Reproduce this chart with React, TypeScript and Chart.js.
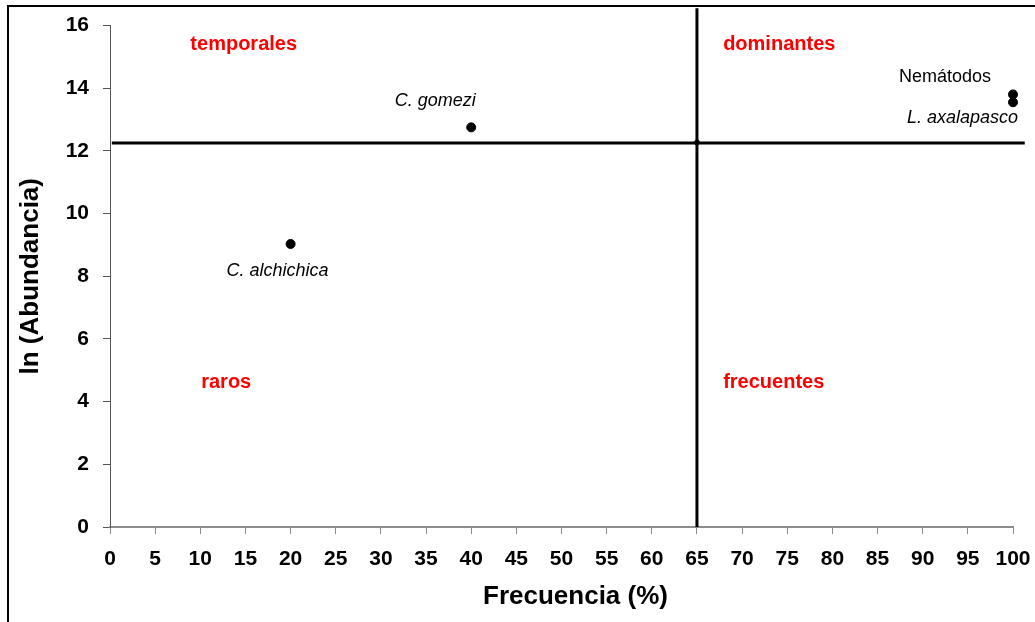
import React, { useEffect, useRef } from "react";
import { Chart, registerables } from "chart.js";

Chart.register(...registerables);

// ---- data ----
const speciesNames = ["C. gomezi", "C. alchichica", "Nemátodos", "L. axalapasco"];
const frequency = [40, 20, 100, 100];
const lnAbundance = [12.75, 9.03, 13.8, 13.55];

const meanFrequency = [65];
const meanLnAbundance = [12.27];

const quadrantNames = ["temporales", "dominantes", "raros", "frecuentes"];
const quadrantX = [8.9, 67.9, 10.1, 67.9];
const quadrantY = [15.4, 15.4, 4.62, 4.62];

const vLineY = [0, 16.55];
const hLineX = [0.2, 101.3];

const xTickStep = 5;
const yTickStep = 2;

const xTitle = "Frecuencia (%)";
const yTitle = "ln (Abundancia)";

// ---- styles ----
const FONT = "'Liberation Sans', Arial, sans-serif";
const labelStyle = [
  { dx: -36, dy: -26, align: "center", italic: true },
  { dx: -13, dy: 27, align: "center", italic: true },
  { dx: -22, dy: -17, align: "right", italic: false },
  { dx: 5, dy: 16, align: "right", italic: true },
];
const xTitleShift = 14;
const xTitleY = 597;

const annotationPlugin = {
  id: "annotations",
  afterDraw(chart: any) {
    const ctx = chart.ctx;
    const xs = chart.scales.x;
    const ys = chart.scales.y;
    const area = chart.chartArea;
    ctx.save();
    ctx.textBaseline = "middle";
    // x axis title
    ctx.fillStyle = "#000000";
    ctx.font = `bold 26px ${FONT}`;
    ctx.textAlign = "center";
    ctx.fillText(xTitle, (area.left + area.right) / 2 + xTitleShift, xTitleY);
    // quadrant names
    ctx.fillStyle = "#ff0000";
    ctx.font = `bold 20px ${FONT}`;
    ctx.textAlign = "left";
    quadrantNames.forEach((name, i) => {
      ctx.fillText(name, xs.getPixelForValue(quadrantX[i]), ys.getPixelForValue(quadrantY[i]));
    });
    // species labels
    ctx.fillStyle = "#000000";
    speciesNames.forEach((name, i) => {
      const st = labelStyle[i];
      ctx.font = `${st.italic ? "italic " : ""}18px ${FONT}`;
      ctx.textAlign = st.align;
      ctx.fillText(
        name,
        xs.getPixelForValue(frequency[i]) + st.dx,
        ys.getPixelForValue(lnAbundance[i]) + st.dy
      );
    });
    ctx.restore();
  },
};

export default function App() {
  const canvasRef = useRef<HTMLCanvasElement | null>(null);

  useEffect(() => {
    if (!canvasRef.current) return;
    const chart = new Chart(canvasRef.current, {
      type: "scatter",
      data: {
        datasets: [
          {
            label: "Especies",
            data: frequency.map((x, i) => ({ x, y: lnAbundance[i] })),
            backgroundColor: "#000",
            borderColor: "#000",
            pointRadius: 4.5,
            clip: false,
          },
          {
            label: "Media",
            data: meanFrequency.map((x, i) => ({ x, y: meanLnAbundance[i] })),
            backgroundColor: "#000",
            borderColor: "#000",
            pointRadius: 2.5,
            clip: false,
          },
          {
            label: "Frecuencia media",
            data: vLineY.map((y) => ({ x: meanFrequency[0], y })),
            showLine: true,
            borderColor: "#000",
            borderWidth: 3,
            pointRadius: 0,
            clip: false,
          },
          {
            label: "Abundancia media",
            data: hLineX.map((x) => ({ x, y: meanLnAbundance[0] - 0.02 })),
            showLine: true,
            borderColor: "#000",
            borderWidth: 3,
            pointRadius: 0,
            clip: false,
          },
        ],
      },
      options: {
        animation: false,
        responsive: false,
        layout: { padding: { top: 25.5, right: 22, left: 0, bottom: 0 } },
        plugins: {
          legend: { display: false },
          tooltip: { enabled: false },
        },
        scales: {
          x: {
            type: "linear",
            min: 0,
            max: 100,
            afterFit: (s: any) => {
              s.height = 95;
              s.paddingLeft = 0;
              s.paddingRight = 0;
            },
            ticks: {
              stepSize: xTickStep,
              color: "#000",
              padding: 13,
              font: { family: FONT, size: 21, weight: "bold" },
            },
            grid: { drawOnChartArea: false, drawTicks: true, tickLength: 7, color: "#8c8c8c", lineWidth: 1 },
            border: { display: true, color: "#8c8c8c", width: 2 },
            title: { display: false },
          },
          y: {
            type: "linear",
            min: 0,
            max: 16,
            afterFit: (s: any) => {
              s.width = 110;
              s.paddingTop = 0;
              s.paddingBottom = 0;
            },
            ticks: {
              stepSize: yTickStep,
              color: "#000",
              padding: 14,
              font: { family: FONT, size: 21, weight: "bold" },
            },
            grid: { drawOnChartArea: false, drawTicks: true, tickLength: 7, color: "#555", lineWidth: 1 },
            border: { display: true, color: "#555", width: 1 },
            title: {
              display: true,
              text: yTitle,
              color: "#000",
              font: { family: FONT, size: 26, weight: "bold" },
              padding: { top: 15, bottom: 0 },
            },
          },
        },
      },
      plugins: [annotationPlugin],
    } as any);
    return () => chart.destroy();
  }, []);

  return (
    <div style={{ position: "absolute", left: 0, top: 0, width: 1035, height: 622, background: "#fff" }}>
      <canvas ref={canvasRef} width={1035} height={622} style={{ position: "absolute", left: 0, top: 0 }} />
      <div
        style={{
          position: "absolute",
          left: 7,
          top: 5,
          width: 1028,
          height: 617,
          borderLeft: "2px solid #000",
          borderTop: "2px solid #000",
          boxSizing: "border-box",
          pointerEvents: "none",
        }}
      />
    </div>
  );
}
